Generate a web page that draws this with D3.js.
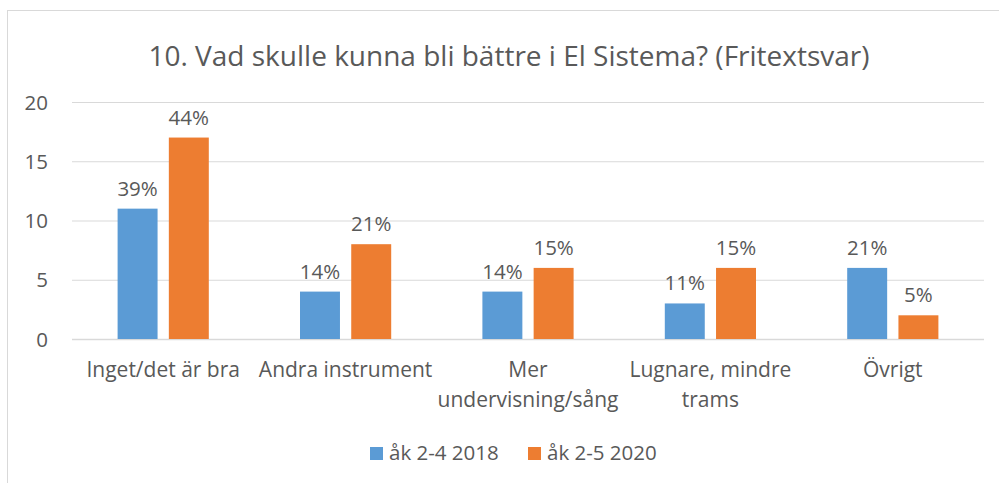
<!DOCTYPE html>
<html>
<head>
<meta charset="utf-8">
<script src="https://cdn.jsdelivr.net/npm/d3@7"></script>
<style>
  body { margin: 0; background: #fff; }
  svg text { font-family: "Open Sans", "Noto Sans", sans-serif; fill: #595959; }
</style>
</head>
<body>
<div id="chart"></div>
<script>
// Chart data
const categories = [['Inget/det är bra'], ['Andra instrument'], ['Mer', 'undervisning/sång'], ['Lugnare, mindre', 'trams'], ['Övrigt']];
const seriesNames = ['åk 2-4 2018', 'åk 2-5 2020'];
const values2018 = [11, 4, 4, 3, 6];
const values2020 = [17, 8, 6, 6, 2];
const labels2018 = ['39%', '14%', '14%', '11%', '21%'];
const labels2020 = ['44%', '21%', '15%', '15%', '5%'];
const yTicks = [0, 5, 10, 15, 20];

const width = 999, height = 483;
const colors = ['#5b9bd5', '#ed7d31'];

const svg = d3.select('#chart').append('svg')
  .attr('width', width)
  .attr('height', height);

// chart border
svg.append('rect')
  .attr('x', 7.5).attr('y', 10.5)
  .attr('width', 1000).attr('height', 480)
  .attr('fill', 'none')
  .attr('stroke', '#d9d9d9');

svg.append('text')
  .attr('x', 509).attr('y', 66)
  .attr('text-anchor', 'middle')
  .attr('font-size', '28px')
  .text('10. Vad skulle kunna bli bättre i El Sistema? (Fritextsvar)');

const plot = { left: 72, right: 984, top: 102, bottom: 339 };

const y = d3.scaleLinear().domain([0, 20]).range([plot.bottom, plot.top]);
const x0 = d3.scaleBand()
  .domain(d3.range(categories.length))
  .range([plot.left, plot.right])
  .paddingInner(0.5)
  .paddingOuter(0.25);
const x1 = d3.scaleBand()
  .domain([0, 1])
  .range([0, x0.bandwidth()])
  .paddingInner(0.22);

// gridlines
svg.append('g').selectAll('line')
  .data(yTicks)
  .join('line')
  .attr('x1', plot.left).attr('x2', plot.right)
  .attr('y1', d => y(d) + 0.5).attr('y2', d => y(d) + 0.5)
  .attr('stroke', '#d9d9d9')
  .attr('stroke-width', d => d === 0 ? 1.5 : 1);

// y tick labels
svg.append('g').selectAll('text')
  .data(yTicks)
  .join('text')
  .attr('x', 48).attr('y', d => y(d) + 7.5)
  .attr('text-anchor', 'end')
  .attr('font-size', '20.5px')
  .text(d => d);

const rows = categories.map((c, i) => ({
  idx: i,
  vals: [values2018[i], values2020[i]],
  labs: [labels2018[i], labels2020[i]]
}));

const groups = svg.append('g').selectAll('g')
  .data(rows)
  .join('g')
  .attr('transform', d => `translate(${x0(d.idx)},0)`);

groups.selectAll('rect')
  .data(d => d.vals.map((v, s) => ({ v, s })))
  .join('rect')
  .attr('x', d => x1(d.s))
  .attr('y', d => y(d.v))
  .attr('width', x1.bandwidth())
  .attr('height', d => y(0) - y(d.v))
  .attr('fill', d => colors[d.s]);

groups.selectAll('text.pct')
  .data(d => d.vals.map((v, s) => ({ v, s, lab: d.labs[s] })))
  .join('text')
  .attr('class', 'pct')
  .attr('x', d => x1(d.s) + x1.bandwidth() / 2)
  .attr('y', d => y(d.v) - 13)
  .attr('text-anchor', 'middle')
  .attr('font-size', '20.5px')
  .text(d => d.lab);

// category labels
const catText = svg.append('g').selectAll('text')
  .data(categories)
  .join('text')
  .attr('text-anchor', 'middle')
  .attr('font-size', '21px');

catText.selectAll('tspan')
  .data((d, i) => d.map(line => ({ line, i })))
  .join('tspan')
  .attr('x', d => x0(d.i) + x0.bandwidth() / 2)
  .attr('y', (d, j) => 377 + j * 30)
  .text(d => d.line);

// legend
const legendX = [370, 528];
const legend = svg.append('g').selectAll('g')
  .data(seriesNames)
  .join('g')
  .attr('transform', (d, i) => `translate(${legendX[i]},447)`);

legend.append('rect')
  .attr('width', 13).attr('height', 13)
  .attr('fill', (d, i) => colors[i]);

legend.append('text')
  .attr('x', 19).attr('y', 13)
  .attr('font-size', '20.5px')
  .text(d => d);
</script>
</body>
</html>
